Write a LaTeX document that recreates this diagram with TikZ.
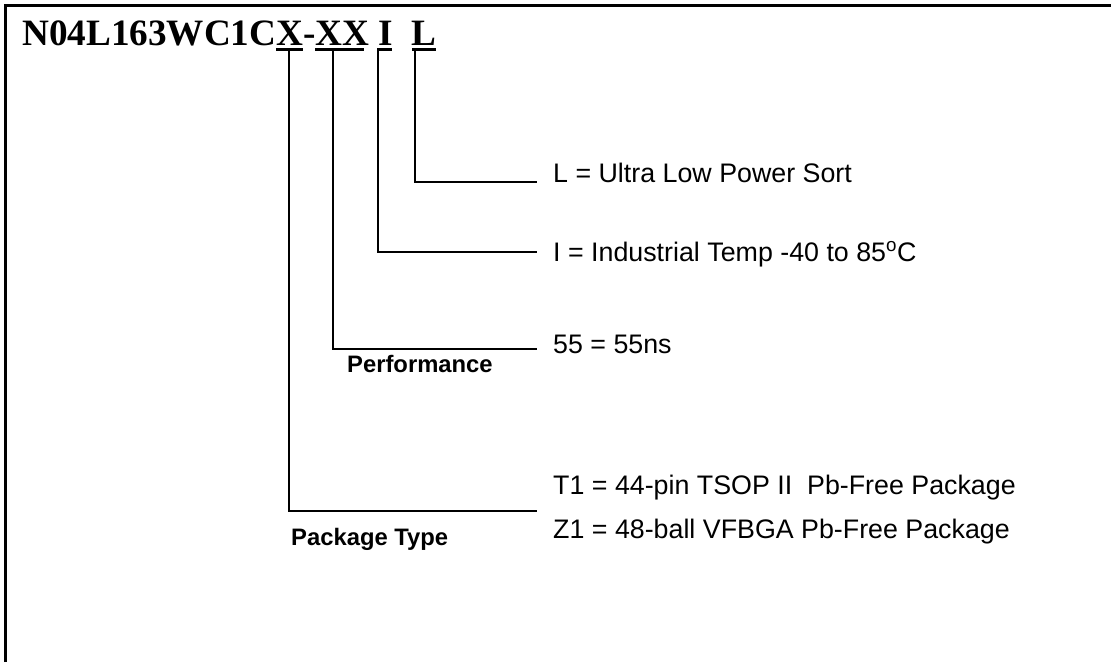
\documentclass[tikz,border=0pt]{standalone}
\usepackage{fontspec}
\setmainfont{Liberation Sans}
\newfontfamily\partfont{Liberation Serif}
\usepackage{tikz}
\usetikzlibrary{positioning}
\definecolor{ink}{HTML}{000000}
\definecolor{paper}{HTML}{FFFFFF}
\tikzset{
  frame/.style = {draw=ink, line width=3pt},
  uline/.style = {draw=ink, line width=3pt},
  lead/.style  = {draw=ink, line width=2.5pt},
  opt/.style   = {font=\fontsize{26.8}{30}\selectfont, text=ink,
                  anchor=base west, inner sep=0pt},
  head/.style  = {font=\fontsize{23.8}{26}\selectfont\bfseries, text=ink,
                  anchor=base west, inner sep=0pt},
}

\begin{document}
\begin{tikzpicture}[x=1pt,y=-1pt]
  \useasboundingbox (0,0) rectangle (1111,662);
  \fill[paper] (-2,-2) rectangle (1113,664);
  \draw[frame] (5,662) -- (5,5) -- (1111,5);
  \node[anchor=base west, inner sep=0pt, text=ink,
        font=\partfont\fontsize{37.2}{40}\selectfont\bfseries]
    (part) at (22,45) {N04L163WC1CX-XX I\ \ L};
  % underlined fields
  \foreach \a/\b in {276/303,315/364,377/392,412/436}
    \draw[uline] (\a,49) -- (\b,49);
  % leads from the fields
  \foreach \n/\x/\y in {pk/289/511,pf/333/349,tp/378/252,lp/415/182}{
    \coordinate (\n top) at (\x,49);
    \coordinate (\n end) at (537,\y);
    \draw[lead] (\n top) |- (\n end);}
  \node[opt] (lowpwr) at (553,182) {L = Ultra Low Power Sort};
  \node[opt] (temp)   at (553,261) {I = Industrial Temp -40 to 85\textsuperscript{o}C};
  \node[opt] (speed)  at (553,353) {55 = 55ns};
  \node[opt] (tsop)   at (553,494) {T1 = 44-pin TSOP II\ \ Pb-Free Package};
  \node[opt] (bga)    at (553,538) {Z1 = 48-ball VFBGA Pb-Free Package};
  \node[head] (perf)  at (347,372) {Performance};
  \node[head] (pkg)   at (291,545) {Package Type};
\end{tikzpicture}
\end{document}
